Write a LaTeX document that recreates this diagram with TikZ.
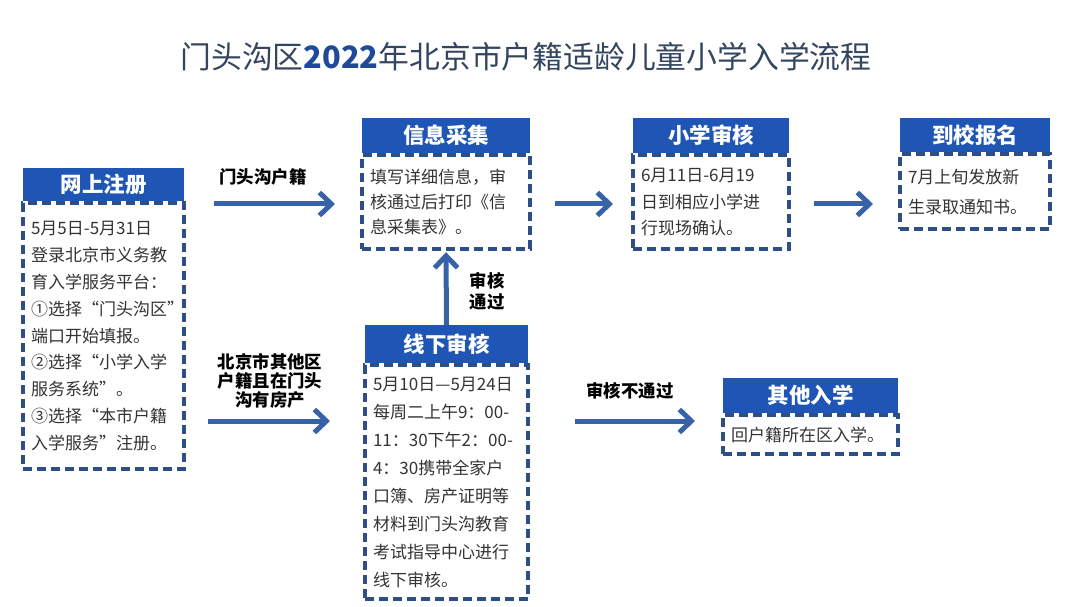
\documentclass[tikz,border=0pt]{standalone}
\usepackage{fontspec}
\setmainfont{Noto Sans CJK SC}
\usepackage{tikz}
\usetikzlibrary{positioning,arrows.meta}
\definecolor{headblue}{HTML}{1F56B5}
\definecolor{dashblue}{HTML}{2E4E88}
\definecolor{arrowblue}{HTML}{3762A8}
\definecolor{titlegray}{HTML}{34465F}
\definecolor{titleblue}{HTML}{1F4A98}
\definecolor{bodygray}{HTML}{333333}
\tikzset{>={Straight Barb[length=12pt,width=23pt]}}
\tikzset{
  headbox/.style={fill=headblue, text=white, inner sep=0pt, font=\fontsize{21.5}{24}\selectfont\bfseries},
  bodybox/.style={draw=dashblue, line width=4pt, dash pattern=on 9pt off 5pt, text=bodygray, align=left, inner xsep=8pt, inner ysep=0pt},
  flow/.style={->, draw=arrowblue, line width=5pt},
  lab/.style={align=center, font=\fontsize{17.4}{21}\selectfont\bfseries}
}

\begin{document}
\begin{tikzpicture}[x=1pt,y=-1pt]
\useasboundingbox (0,0) rectangle (1080,607);
\node (title) at (526,57) {\fontsize{30.8}{36}\selectfont{\color{titlegray}门头沟区}{\bfseries\color{titleblue}2022}{\color{titlegray}年北京市户籍适龄儿童小学入学流程}};
\coordinate (toprow) at (0,204);
\coordinate (lowrow) at (0,421);

\node [headbox, minimum width=161pt, minimum height=33pt] (reghead) at (103.5,184.5) {网上注册};
\node [bodybox, below=0pt of reghead, text width=145pt, minimum height=266pt, font=\fontsize{17}{26.8}\selectfont] (regbody) {5月5日-5月31日\\登录北京市义务教\\育入学服务平台：\\①选择“门头沟区”\\端口开始填报。\\②选择“小学入学\\服务系统”。\\③选择“本市户籍\\入学服务”注册。};

\node [headbox, minimum width=168pt, minimum height=35pt] (infohead) at (446,135.5) {信息采集};
\node [bodybox, below=0pt of infohead, text width=152pt, minimum height=94pt, font=\fontsize{17}{25}\selectfont] (infobody) {填写详细信息，审\\核通过后打印《信\\息采集表》。};

\node [headbox, minimum width=156pt, minimum height=35pt] (schoolhead) at (711,135.5) {小学审核};
\node [bodybox, below=0pt of schoolhead, text width=140pt, minimum height=94pt, font=\fontsize{17}{26.5}\selectfont] (schoolbody) {6月11日-6月19\\日到相应小学进\\行现场确认。};

\node [headbox, minimum width=150pt, minimum height=34pt] (enrolhead) at (975,135) {到校报名};
\node [bodybox, below=0pt of enrolhead, text width=134pt, minimum height=75pt, font=\fontsize{17}{30}\selectfont] (enrolbody) {7月上旬发放新\\生录取通知书。};

\node [headbox, minimum width=163pt, minimum height=38pt] (offhead) at (446.5,344) {线下审核};
\node [bodybox, below=0pt of offhead, text width=147pt, minimum height=234pt, font=\fontsize{17}{28}\selectfont] (offbody) {5月10日—5月24日\\每周二上午9：00-\\11：30下午2：00-\\4：30携带全家户\\口簿、房产证明等\\材料到门头沟教育\\考试指导中心进行\\线下审核。};

\node [headbox, minimum width=175pt, minimum height=35pt] (othhead) at (810.5,395.5) {其他入学};
\node [bodybox, below=0pt of othhead, text width=159pt, minimum height=39pt, font=\fontsize{17}{24}\selectfont] (othbody) {回户籍所在区入学。};

\draw [flow, shorten <=28pt, shorten >=25pt] (regbody.east |- toprow) -- (infobody.west |- toprow);
\draw [flow, shorten <=22pt, shorten >=33pt] (regbody.east |- lowrow) -- (offbody.west |- lowrow);
\draw [flow, shorten >=1pt] (offhead.north) -- (infobody.south);
\draw [flow, shorten <=23pt, shorten >=18pt] (infobody.east |- toprow) -- (schoolbody.west |- toprow);
\draw [flow, shorten <=23pt, shorten >=25pt] (schoolbody.east |- toprow) -- (enrolbody.west |- toprow);
\draw [flow, shorten <=45pt, shorten >=26pt] (offbody.east |- lowrow) -- (othbody.west |- lowrow);

\node [lab] (hukou) at (263,177) {门头沟户籍};
\node [lab, font=\fontsize{17.4}{19}\selectfont\bfseries] (property) at (270,381) {北京市其他区\\户籍且在门头\\沟有房产};
\node [lab] (pass) at (487,291) {审核\\通过};
\node [lab] (fail) at (630,391) {审核不通过};
\end{tikzpicture}
\end{document}
